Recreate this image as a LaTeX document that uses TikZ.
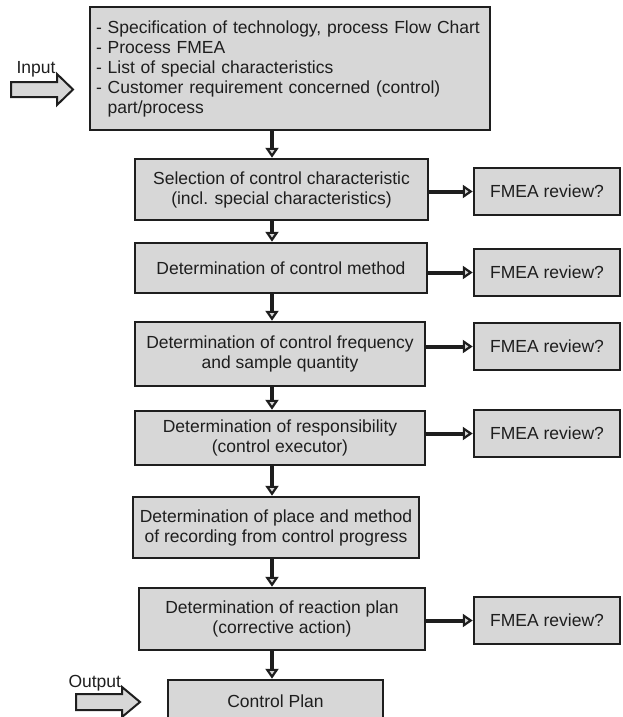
\documentclass[tikz,border=0pt]{standalone}
\usepackage{fontspec}
\setmainfont{Liberation Sans}
\usetikzlibrary{arrows.meta}
\definecolor{boxfill}{RGB}{215, 215, 215}
\definecolor{ink}{RGB}{30, 30, 30}

\begin{document}
\begin{tikzpicture}[x=1pt, y=-1pt,
    every node/.style={font=\fontsize{17.5}{20}\selectfont, text=ink},
    box/.style={draw=ink, line width=2.5pt, fill=boxfill, align=center, inner sep=0pt},
    review/.style={box, minimum width=146pt, minimum height=47pt},
    flow/.style={draw=ink, line width=4pt, -{Triangle[length=10pt, width=13pt, line width=2.2pt, fill=boxfill]}},
    bigarrow/.style={draw=ink, line width=2pt, fill=boxfill, line join=miter}]
    \useasboundingbox (0,0) rectangle (622,717);

    % 输入
    \node[box, minimum width=400pt, minimum height=123pt, align=left, text width=388pt] (spec) at (290,68.5)
        {- Specification of technology, process Flow Chart\\- Process FMEA\\- List of special characteristics\\- Customer requirement concerned (control)\\\phantom{- }part/process};
    \draw[bigarrow] (11,82) -- (57,82) -- (57,74) -- (73,89.5) -- (57,105) -- (57,97) -- (11,97) -- cycle;
    \node[anchor=base west] (inlabel) at (13,74) {Input};

    % 步骤
    \node[box, minimum width=293pt, minimum height=61pt] (sel) at (281.5,189.5) {Selection of control characteristic\\(incl. special characteristics)};
    \node[box, minimum width=292pt, minimum height=50pt] (meth) at (281,268) {Determination of control method};
    \node[box, minimum width=290pt, minimum height=64pt] (freq) at (280,354) {Determination of control frequency\\and sample quantity};
    \node[box, minimum width=290pt, minimum height=54pt] (resp) at (280,438) {Determination of responsibility\\(control executor)};
    \node[box, minimum width=286pt, minimum height=61pt] (place) at (276,527.5) {Determination of place and method\\of recording from control progress};
    \node[box, minimum width=286pt, minimum height=62pt] (react) at (282,619) {Determination of reaction plan\\(corrective action)};
    \node[box, minimum width=215pt, minimum height=42pt] (plan) at (275.5,701) {Control Plan};

    % FMEA
    \node[review] (rev1) at (547,191.5) {FMEA review?};
    \node[review] (rev2) at (547,272.5) {FMEA review?};
    \node[review] (rev3) at (547,346.5) {FMEA review?};
    \node[review] (rev4) at (547,433.5) {FMEA review?};
    \node[review] (rev5) at (547,620.5) {FMEA review?};

    % 输出
    \draw[bigarrow] (76,694) -- (122,694) -- (122,687) -- (140,702) -- (122,717) -- (122,710) -- (76,710) -- cycle;
    \node[anchor=base west] (outlabel) at (65,687) {Output};

    % 箭头
    \coordinate (spine) at (272,0);
    \foreach \a/\b in {spec/sel, sel/meth, meth/freq, freq/resp, resp/place, place/react, react/plan}
        \draw[flow] (\a.south -| spine) -- (\b.north -| spine);
    \foreach \a/\b in {sel/rev1, meth/rev2, freq/rev3, resp/rev4, react/rev5}
        \draw[flow] (\b.west -| \a.east) -- (\b.west);
\end{tikzpicture}
\end{document}
